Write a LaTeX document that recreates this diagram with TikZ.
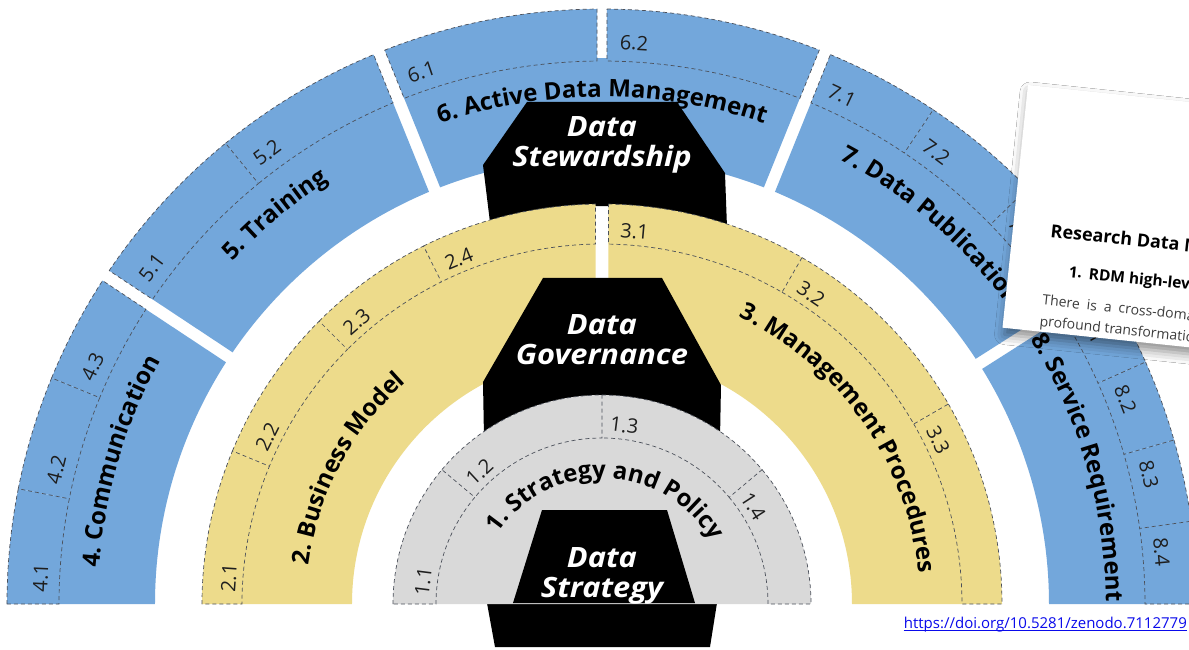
\documentclass[tikz,border=0pt]{standalone}
\usepackage{fontspec}
\setmainfont{Open Sans}
\usetikzlibrary{decorations.text,shadows.blur,calc}
\definecolor{bluec}{RGB}{115,167,219}
\definecolor{yelc}{RGB}{237,219,139}
\definecolor{grayc}{RGB}{217,217,217}
\definecolor{dashc}{RGB}{75,80,90}
\definecolor{linkc}{RGB}{10,10,235}
\definecolor{labc}{RGB}{30,30,30}
\definecolor{bodyc}{RGB}{60,60,60}
\newcommand\tfont{\fontsize{24}{28}\selectfont\bfseries}
\newcommand\wide[1]{\scalebox{1.1}[1]{#1}}
% A B gA gB rin rout style closing
\newcommand\mycell[8]{%
 \pgfmathsetmacro\sAo{#1-asin(#3/#6)}%
 \pgfmathsetmacro\sBo{#2+asin(#4/#6)}%
 \pgfmathsetmacro\sAi{#1-asin(#3/#5)}%
 \pgfmathsetmacro\sBi{#2+asin(#4/#5)}%
 \path[#7] (\sAo:#6) arc[start angle=\sAo, end angle=\sBo, radius=#6] -- (\sBi:#5) arc[start angle=\sBi, end angle=\sAi, radius=#5] #8;}
\tikzset{
 dcell/.style={draw=dashc, line width=0.7pt, dash pattern=on 4pt off 3pt},
 lab/.style={text=labc, font=\fontsize{20}{22}\selectfont, inner sep=0pt},
 blk/.style={text=white, font=\fontsize{28}{30}\selectfont\bfseries\itshape, align=center, inner sep=0pt},
 cardtxt/.style={anchor=base west, transform shape, inner sep=0pt},
 ttl/.style={decorate, decoration={text along path, text={#1}, text align=center}}
}
\begin{document}
\begin{tikzpicture}[x=1pt,y=1pt]
\useasboundingbox (-602,-45) rectangle (587,604);
\clip (-602,-45) rectangle (587,604);
\fill[white] (-602,-45) rectangle (587,604);

% ---------- blue ring ----------
\foreach \A/\B/\ga/\gb in {180/146.5/0/6, 146.5/112/6/6, 112/68/6/6, 68/32.5/6/6, 32.5/0/6/0}
  \mycell{\A}{\B}{\ga}{\gb}{447}{546}{fill=bluec}{-- cycle};
\foreach \A/\B/\ga/\gb in {180/168.83/0/0, 168.83/157.67/0/0, 157.67/146.5/0/6, 146.5/129.25/6/0, 129.25/112/0/6, 112/90/6/5, 90/68/5/6, 68/56.17/6/0, 56.17/44.33/0/0, 44.33/32.5/0/6, 32.5/24/6/0, 24/16/0/0, 16/8/0/0, 8/0/0/0}
  \mycell{\A}{\B}{\ga}{\gb}{543}{595}{fill=bluec}{-- cycle};
\foreach \A/\B/\ga/\gb in {180/168.83/0/0, 146.5/129.25/6/0, 112/90/6/5, 90/68/5/6, 68/56.17/6/0, 32.5/24/6/0}
  \mycell{\A}{\B}{\ga}{\gb}{543}{595}{dcell}{-- cycle};
\foreach \A/\B/\ga/\gb in {168.83/157.67/0/0, 157.67/146.5/0/6, 129.25/112/0/6, 56.17/44.33/0/0, 44.33/32.5/0/6, 24/16/0/0, 16/8/0/0, 8/0/0/0}
  \mycell{\A}{\B}{\ga}{\gb}{543}{595}{dcell}{};

% ---------- Data Stewardship shape ----------
\fill[black] (-75,502) -- (75,502) -- (123,431) -- (71.7:398) arc[start angle=71.7, end angle=106.35, radius=398] -- (-119,439) -- cycle;

% ---------- yellow ring ----------
\foreach \A/\B/\ga/\gb in {180/90/0/6.5, 90/0/6.5/0}
  \mycell{\A}{\B}{\ga}{\gb}{250}{362}{fill=yelc}{-- cycle};
\foreach \A/\B/\ga/\gb in {180/157.5/0/0, 157.5/135/0/0, 135/116.5/0/0, 116.5/90/0/6.5, 90/60/6.5/0, 60/30/0/0, 30/0/0/0}
  \mycell{\A}{\B}{\ga}{\gb}{360}{400}{fill=yelc}{-- cycle};
\foreach \A/\B/\ga/\gb in {180/157.5/0/0, 90/60/6.5/0}
  \mycell{\A}{\B}{\ga}{\gb}{360}{400}{dcell}{-- cycle};
\foreach \A/\B/\ga/\gb in {157.5/135/0/0, 135/116.5/0/0, 116.5/90/0/6.5, 60/30/0/0, 30/0/0/0}
  \mycell{\A}{\B}{\ga}{\gb}{360}{400}{dcell}{};

% ---------- Data Governance shape ----------
\fill[black] (-59,326) -- (60,326) -- (119,219) -- (115,1) -- (108,-43) -- (-107,-43) -- (-115,1) -- (-119,222) -- cycle;

% ---------- gray half disc ----------
\fill[grayc] (209,0) arc[start angle=0, end angle=180, radius=209] -- cycle;
\mycell{180}{140}{0}{0}{166}{209}{dcell}{-- cycle}
\foreach \A/\B in {140/90, 90/40, 40/0}
  \mycell{\A}{\B}{0}{0}{166}{209}{dcell}{};

% ---------- Data Strategy shape ----------
\fill[black] (-60,94) -- (65,94) -- (93,1) -- (-89,1) -- cycle;

% ---------- centre labels ----------
\node[blk] (stew) at (0,459) {\wide{Data}\\\wide{Stewardship}};
\node[blk] (gov) at (0,264) {\wide{Data}\\\wide{Governance}};
\node[blk] (strat) at (0,28) {\wide{Data}\\\wide{Strategy}};

% ---------- titles along arcs ----------
\path[ttl={|\tfont|4. Communication}] (185:504) arc[start angle=185, end angle=142, radius=504];
\path[ttl={|\tfont|5. Training}] (150:504) arc[start angle=150, end angle=110, radius=504];
\path[ttl={|\tfont|6. Active Data Management}] (115:507) arc[start angle=115, end angle=65, radius=507];
\path[ttl={|\tfont|7. Data Publication}] (71:504) arc[start angle=71, end angle=27, radius=504];
\path[ttl={|\tfont|8. Service Requirement}] (38:504) arc[start angle=38, end angle=-6, radius=504];
\path[ttl={|\tfont|2. Business Model}] (182:296) arc[start angle=182, end angle=122, radius=296];
\path[ttl={|\tfont|3. Management Procedures}] (73:318) arc[start angle=73, end angle=-3, radius=318];
\path[ttl={|\tfont|1. Strategy and Policy}] (163:126) arc[start angle=163, end angle=13, radius=126];

% ---------- cell labels ----------
\foreach \t/\a [count=\i] in {4.1/177.34, 4.2/166.17, 4.3/155.0, 5.1/143.23, 5.2/126.59, 6.1/108.73, 6.2/86.73, 7.1/64.73, 7.2/53.51, 7.3/41.67, 8.1/29.23, 8.2/21.34, 8.3/13.34, 8.4/5.34}
  \node[lab, rotate=\a-90] (bl\i) at (\a:562) {\t};
\foreach \t/\a [count=\i] in {2.1/176.0, 2.2/153.5, 2.3/131.0, 2.4/112.5, 3.1/85.0, 3.2/56.0, 3.3/26.0}
  \node[lab, rotate=\a-90] (yl\i) at (\a:374) {\t};
\foreach \t/\a [count=\i] in {1.1/172.9, 1.2/132.9, 1.3/82.9, 1.4/32.9}
  \node[lab, rotate=\a-90] (gl\i) at (\a:180) {\t};

% ---------- overlay card ----------
\begin{scope}[shift={(426,519)}, rotate=-6]
  \fill[white, blur shadow={shadow xshift=2pt, shadow yshift=-7pt, shadow blur radius=10pt, shadow opacity=45}] (0,0) rectangle (340,-244);
  \node[cardtxt, font=\fontsize{18}{20}\selectfont\bfseries] (ct) at (37.8,-148.9) {Research Data Management};
  \node[cardtxt, font=\fontsize{15.5}{18}\selectfont\bfseries] (ch) at (59.9,-186.8) {1.\hspace{7pt}RDM high-level};
  \node[cardtxt, text=bodyc, font=\fontsize{14}{16}\selectfont] (cb1) at (36.9,-217.3) {There\hspace{7pt}is\hspace{7pt}a\hspace{7pt}cross-domain};
  \node[cardtxt, text=bodyc, font=\fontsize{14}{16}\selectfont] (cb2) at (36.3,-238.5) {profound transformation};
\end{scope}

% ---------- link ----------
\node[anchor=base east, inner sep=0pt, text=linkc, font=\fontsize{15}{18}\selectfont] (link) at (585,-24) {https://doi.org/10.5281/zenodo.7112779};
\draw[linkc, line width=0.8pt] ([yshift=-2.5pt]link.base west) -- ([yshift=-2.5pt]link.base east);
\end{tikzpicture}
\end{document}
